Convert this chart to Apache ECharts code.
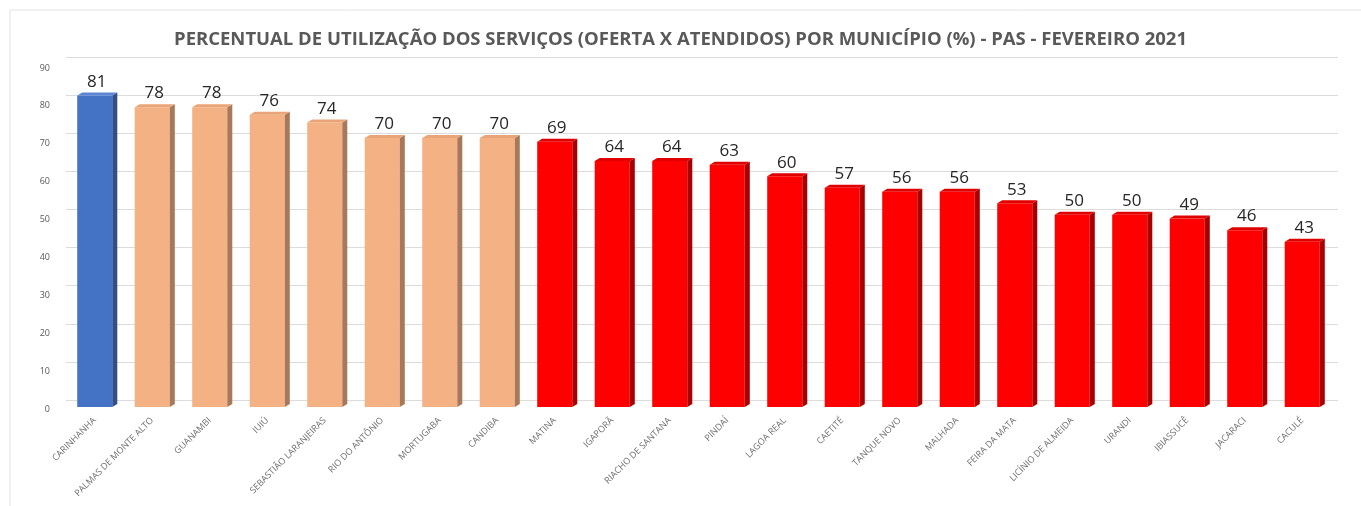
<!DOCTYPE html>
<html>
<head>
<meta charset="utf-8">
<script src="https://cdn.jsdelivr.net/npm/echarts@6/dist/echarts.min.js"></script>
<style>
  html, body { margin: 0; padding: 0; background: #fff; }
  #chart { width: 1361px; height: 506px; }
</style>
</head>
<body>
<div id="chart"></div>
<script>
// municipios e percentuais (fev/2021)
const municipios = ['CARINHANHA', 'PALMAS DE MONTE ALTO', 'GUANAMBI', 'IUIÚ', 'SEBASTIÃO LARANJEIRAS',
  'RIO DO ANTÔNIO', 'MORTUGABA', 'CANDIBA', 'MATINA', 'IGAPORÃ', 'RIACHO DE SANTANA', 'PINDAÍ',
  'LAGOA REAL', 'CAETITÉ', 'TANQUE NOVO', 'MALHADA', 'FEIRA DA MATA', 'LICÍNIO DE ALMEIDA',
  'URANDI', 'IBIASSUCÊ', 'JACARACI', 'CACULÉ'];
const percentuais = [81, 78, 78, 76, 74, 70, 70, 70, 69, 64, 64, 63, 60, 57, 56, 56, 53, 50, 50, 49, 46, 43];
const yTicks = [0, 10, 20, 30, 40, 50, 60, 70, 80, 90];

// cores: frente / lateral / topo
function cores(v) {
  if (v > 80) return ['#4472C4', '#2F4E8A', '#5B86D4'];
  if (v >= 70) return ['#F4B183', '#A8785A', '#E9A577'];
  return ['#FF0000', '#A80000', '#E00000'];
}

const chart = echarts.init(document.getElementById('chart'));

chart.setOption({
  animation: false,
  textStyle: { fontFamily: 'Open Sans' },
  title: {
    text: 'PERCENTUAL DE UTILIZAÇÃO DOS SERVIÇOS (OFERTA X ATENDIDOS) POR MUNICÍPIO (%) - PAS - FEVEREIRO 2021',
    left: 'center',
    top: 25,
    textStyle: { fontSize: 18.5, fontWeight: 'bold', color: '#595959', fontFamily: 'Open Sans' }
  },
  // grid 0 = parede do fundo (linhas de grade), grid 1 = rotulos dos eixos, grid 2 = barras (plano frontal)
  grid: [
    { left: 66, right: 23, top: 57, bottom: 106 },
    { left: 66, right: 30, top: 68, bottom: 97 },
    { left: 66, right: 30, top: 61, bottom: 99 }
  ],
  xAxis: [
    { type: 'category', gridIndex: 0, data: municipios, show: false },
    {
      type: 'category',
      gridIndex: 1,
      data: municipios,
      axisLine: { show: false },
      axisTick: { show: false },
      axisLabel: { rotate: 45, fontSize: 9, color: '#6f6f6f', interval: 0, margin: 10 }
    },
    { type: 'category', gridIndex: 2, data: municipios, show: false }
  ],
  yAxis: [
    {
      type: 'value', gridIndex: 0,
      min: yTicks[0], max: yTicks[yTicks.length - 1], interval: 10,
      axisLabel: { show: false },
      splitLine: { lineStyle: { color: '#dcdcdc', width: 1 } }
    },
    {
      type: 'value', gridIndex: 1,
      min: yTicks[0], max: yTicks[yTicks.length - 1], interval: 10,
      axisLabel: { fontSize: 9, color: '#595959', margin: 16 },
      splitLine: { show: false }
    },
    {
      type: 'value', gridIndex: 2, show: false,
      min: yTicks[0], max: yTicks[yTicks.length - 1], interval: 10,
      splitLine: { show: false }
    }
  ],
  graphic: [
    { type: 'line', shape: { x1: 10, y1: 10, x2: 1361, y2: 10 }, style: { stroke: '#e3e3e3', lineWidth: 1 } },
    { type: 'line', shape: { x1: 10, y1: 10, x2: 10, y2: 506 }, style: { stroke: '#e3e3e3', lineWidth: 1 } }
  ],
  series: [{
    type: 'custom',
    xAxisIndex: 2,
    yAxisIndex: 2,
    data: percentuais.map((v, i) => [i, v]),
    renderItem(params, api) {
      const v = api.value(1);
      const topo = api.coord([api.value(0), v]);
      const base = api.coord([api.value(0), 0]);
      const w = api.size([1, 0])[0] * 0.61;
      const dx = 5, dy = -3;
      const x0 = topo[0] - w / 2, x1 = topo[0] + w / 2;
      const c = cores(v);
      return {
        type: 'group',
        children: [
          { type: 'rect', shape: { x: x0, y: topo[1], width: w, height: base[1] - topo[1] }, style: { fill: c[0] } },
          { type: 'polygon', shape: { points: [[x1, topo[1]], [x1 + dx, topo[1] + dy], [x1 + dx, base[1] + dy], [x1, base[1]]] }, style: { fill: c[1] } },
          { type: 'polygon', shape: { points: [[x0, topo[1]], [x0 + dx, topo[1] + dy], [x1 + dx, topo[1] + dy], [x1, topo[1]]] }, style: { fill: c[2] } },
          { type: 'text', x: topo[0] + 2, y: topo[1] - 5, style: { text: String(v), fill: '#262626', font: '17px "Open Sans"', align: 'center', verticalAlign: 'bottom' } }
        ]
      };
    }
  }]
});
</script>
</body>
</html>
